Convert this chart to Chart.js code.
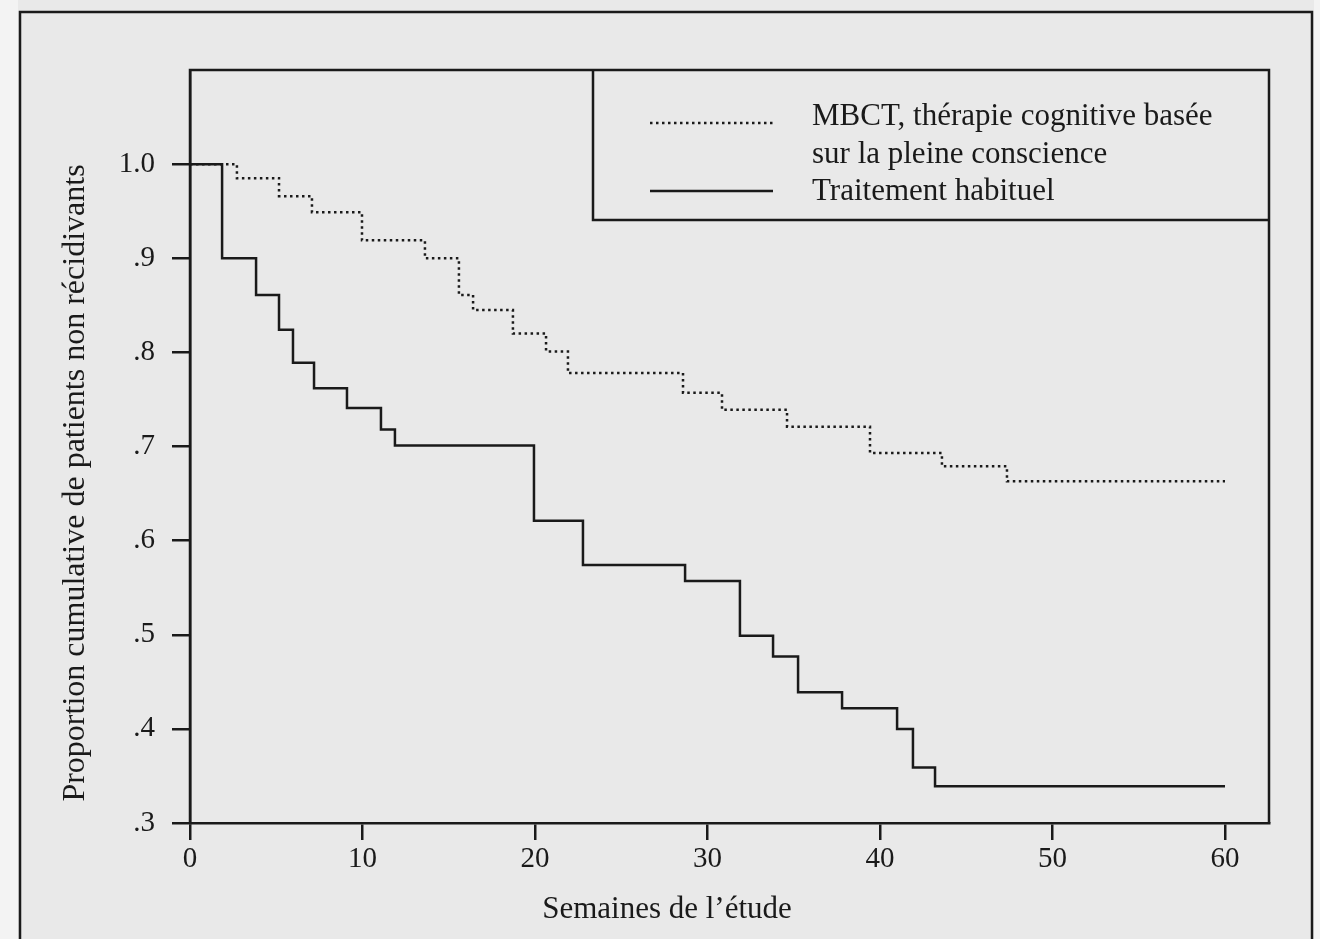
<!DOCTYPE html>
<html>
<head>
<meta charset="utf-8">
<script src="https://cdn.jsdelivr.net/npm/chart.js@4.4.0/dist/chart.umd.min.js"></script>
<style>
  html, body { margin: 0; padding: 0; background: #e9e9e9; }
  #wrap { width: 1320px; height: 939px; position: relative; }
</style>
</head>
<body>
<div id="wrap"><canvas id="c" width="1320" height="939"></canvas></div>
<script>
// ---- Data ----
const mbctWeeks  = [0, 2.72, 5.16, 7.07, 9.97, 13.62, 15.59, 16.41, 18.72, 20.64, 21.91, 28.58, 30.84, 34.61, 39.42, 43.59, 47.36, 60];
const mbctValues = [1.0, 0.985, 0.966, 0.949, 0.919, 0.900, 0.861, 0.845, 0.820, 0.801, 0.778, 0.757, 0.739, 0.721, 0.693, 0.679, 0.663, 0.663];

const tauWeeks  = [0, 1.86, 3.83, 5.16, 5.97, 7.19, 9.10, 11.07, 11.88, 19.94, 22.78, 28.70, 31.88, 33.80, 35.25, 37.80, 40.99, 41.91, 43.19, 60];
const tauValues = [1.0, 0.900, 0.861, 0.824, 0.789, 0.762, 0.741, 0.718, 0.701, 0.621, 0.574, 0.557, 0.499, 0.477, 0.439, 0.422, 0.400, 0.359, 0.339, 0.339];

const seriesLabels = ['MBCT, thérapie cognitive basée sur la pleine conscience', 'Traitement habituel'];
const legendLines  = [['MBCT, thérapie cognitive basée', 'sur la pleine conscience'], ['Traitement habituel']];

const xTicks = [0, 10, 20, 30, 40, 50, 60];
const yTicks = [0.3, 0.4, 0.5, 0.6, 0.7, 0.8, 0.9, 1.0];
const yTickLabels = ['.3', '.4', '.5', '.6', '.7', '.8', '.9', '1.0'];

const xTitle = 'Semaines de l\u2019étude';
const yTitle = 'Proportion cumulative de patients non récidivants';

// ---- Styling ----
const INK = '#1a1a1a';
const SERIF = '"Liberation Serif", "DejaVu Serif", serif';

const toPoints = (xs, ys) => xs.map((x, i) => ({ x: x, y: ys[i] }));

const decor = {
  id: 'decor',
  beforeDraw(chart) {
    const ctx = chart.ctx;
    ctx.save();
    ctx.fillStyle = '#e9e9e9';
    ctx.fillRect(0, 0, chart.width, chart.height);
    ctx.fillStyle = '#f3f3f3';
    ctx.fillRect(0, 0, 18, chart.height);
    ctx.fillRect(1314, 0, 6, chart.height);
    ctx.restore();
  },
  afterDraw(chart) {
    const ctx = chart.ctx;
    const a = chart.chartArea;
    ctx.save();
    ctx.strokeStyle = INK;
    ctx.lineWidth = 2.5;
    // outer figure frame
    ctx.beginPath();
    ctx.moveTo(20, chart.height + 5);
    ctx.lineTo(20, 12);
    ctx.lineTo(1312, 12);
    ctx.lineTo(1312, chart.height + 5);
    ctx.stroke();
    // plot frame top & right
    ctx.beginPath();
    ctx.moveTo(a.left, a.bottom);
    ctx.lineTo(a.left, a.top);
    ctx.lineTo(a.right, a.top);
    ctx.lineTo(a.right, a.bottom);
    ctx.stroke();
    // legend box
    const bx = 593, by = a.top, bw = a.right - 593, bh = 150;
    ctx.beginPath();
    ctx.moveTo(bx, by);
    ctx.lineTo(bx, by + bh);
    ctx.lineTo(bx + bw, by + bh);
    ctx.stroke();
    const ds = chart.data.datasets;
    // samples
    ctx.lineWidth = 2.5;
    ctx.setLineDash(ds[0].borderDash);
    ctx.beginPath(); ctx.moveTo(650, 123); ctx.lineTo(773, 123); ctx.stroke();
    ctx.setLineDash([]);
    ctx.beginPath(); ctx.moveTo(650, 191); ctx.lineTo(773, 191); ctx.stroke();
    // legend text
    ctx.fillStyle = INK;
    ctx.font = '31px ' + SERIF;
    ctx.textAlign = 'left';
    ctx.textBaseline = 'alphabetic';
    ctx.fillText(legendLines[0][0], 812, 125);
    ctx.fillText(legendLines[0][1], 812, 163);
    ctx.fillText(legendLines[1][0], 812, 200);
    // axis titles
    ctx.font = '31px ' + SERIF;
    ctx.textAlign = 'center';
    ctx.textBaseline = 'middle';
    ctx.fillText(xTitle, 667, 910);
    ctx.font = '32px ' + SERIF;
    ctx.save();
    ctx.translate(76, 483);
    ctx.rotate(-Math.PI / 2);
    ctx.fillText(yTitle, 0, 0);
    ctx.restore();
    ctx.restore();
  }
};

new Chart(document.getElementById('c'), {
  type: 'line',
  data: {
    datasets: [
      {
        label: seriesLabels[0],
        data: toPoints(mbctWeeks, mbctValues),
        stepped: 'before',
        borderColor: INK,
        borderWidth: 2.5,
        borderDash: [2.5, 3.5],
        pointRadius: 0,
        fill: false
      },
      {
        label: seriesLabels[1],
        data: toPoints(tauWeeks, tauValues),
        stepped: 'before',
        borderColor: INK,
        borderWidth: 2.5,
        pointRadius: 0,
        fill: false
      }
    ]
  },
  options: {
    responsive: false,
    animation: false,
    devicePixelRatio: 1,
    layout: { padding: { left: 0, right: 51, top: 70, bottom: 0 } },
    plugins: { legend: { display: false }, tooltip: { enabled: false } },
    scales: {
      x: {
        type: 'linear',
        min: 0,
        max: 62.55,
        afterFit: s => { s.height = 116; },
        afterBuildTicks: s => { s.ticks = xTicks.map(v => ({ value: v })); },
        grid: { drawOnChartArea: false, drawTicks: true, tickLength: 17, color: INK, lineWidth: 2.5 },
        border: { display: true, color: INK, width: 2.5 },
        ticks: {
          font: { family: SERIF, size: 29 },
          color: INK,
          padding: 2,
          maxRotation: 0,
          autoSkip: false,
          callback: v => String(v)
        }
      },
      y: {
        type: 'linear',
        min: 0.3,
        max: 1.1,
        afterFit: s => { s.width = 190; },
        afterBuildTicks: s => { s.ticks = yTicks.map(v => ({ value: v })); },
        grid: { drawOnChartArea: false, drawTicks: true, tickLength: 18, color: INK, lineWidth: 2.5 },
        border: { display: true, color: INK, width: 2.5 },
        ticks: {
          font: { family: SERIF, size: 29 },
          color: INK,
          padding: 17,
          autoSkip: false,
          callback: (v) => {
            const i = yTicks.findIndex(t => Math.abs(t - v) < 1e-6);
            return i >= 0 ? yTickLabels[i] : '';
          }
        }
      }
    }
  },
  plugins: [decor]
});
</script>
</body>
</html>
